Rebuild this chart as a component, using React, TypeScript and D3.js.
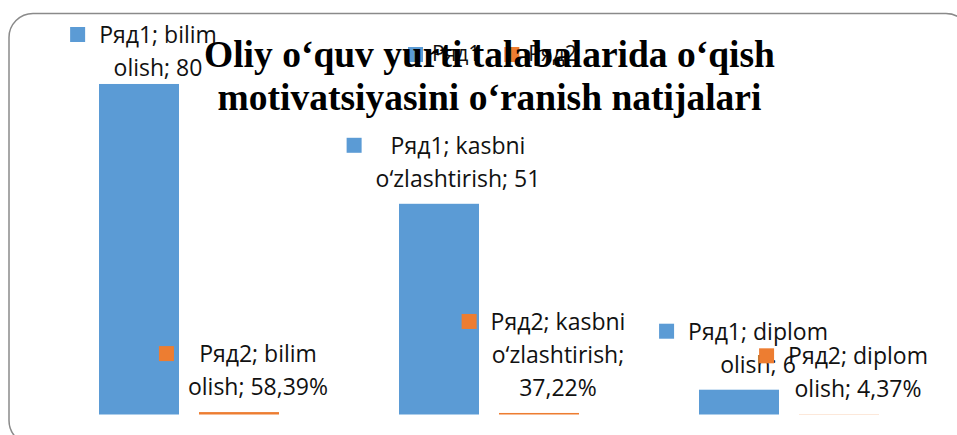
import React, { useMemo } from "react";
import * as d3 from "d3";

const categories = ["bilim olish", "kasbni o‘zlashtirish", "diplom olish"];
const seriesNames = ["Ряд1", "Ряд2"];
const series1 = [80, 51, 6];
const series2 = [0.5839, 0.3722, 0.0437];
const titleLines = ["Oliy o‘quv yurti talabalarida o‘qish", "motivatsiyasini o‘ranish natijalari"];

const COLORS = ["#5B9BD5", "#ED7D31"];
const W = 957;
const H = 435;
const LABEL_FONT = "23px 'Open Sans'";
const LEGEND_FONT = "21px 'Open Sans'";

let ctx: CanvasRenderingContext2D | null = null;
function measure(text: string, font: string) {
  if (!ctx) ctx = document.createElement("canvas").getContext("2d");
  if (!ctx) return text.length * 11;
  ctx.font = font;
  return ctx.measureText(text).width;
}

function wrap(text: string, maxW: number, font: string) {
  const words = text.split(" ");
  const lines: string[] = [];
  let cur = "";
  for (const w of words) {
    const t = cur ? cur + " " + w : w;
    if (cur && measure(t, font) > maxW) {
      lines.push(cur);
      cur = w;
    } else cur = t;
  }
  if (cur) lines.push(cur);
  return lines;
}

const fmt1 = (v: number) => String(v);
const fmt2 = (v: number) => (v * 100).toFixed(2).replace(".", ",") + "%";

export default function App() {
  const x0 = d3.scaleBand<string>().domain(categories).range([39, 939]).padding(0);
  const x1 = d3.scaleBand<string>().domain(seriesNames).range([60, 240]).paddingInner(0.2).paddingOuter(0);
  const y = d3.scaleLinear().domain([0, 90]).range([414.5, 42.66]);

  const allSeries = [series1, series2];
  const fmts = [fmt1, fmt2];

  const labels = useMemo(() => {
    const out: any[] = [];
    allSeries.forEach((vals, si) => {
      vals.forEach((v, ci) => {
        const bx = (x0(categories[ci]) as number) + (x1(seriesNames[si]) as number);
        const barCenter = bx + x1.bandwidth() / 2;
        const top = y(v);
        const text = `${seriesNames[si]}; ${categories[ci]}; ${fmts[si](v)}`;
        const lines = wrap(text, 180, LABEL_FONT);
        const widest = d3.max(lines, (l) => measure(l, LABEL_FONT)) as number;
        const cx = barCenter + 19;
        const last = top - 17;
        let first = last - (lines.length - 1) * 33;
        if (first < 43) first = 43;
        out.push({ key: `${si}-${ci}`, si, cx, lines, first, mx: cx - widest / 2 - 29, my: first - 16 });
      });
    });
    return out;
  }, []);

  let lx = 408;
  const legend = seriesNames.map((s, i) => {
    const e = { s, i, x: lx };
    lx += 15 + 9 + measure(s, LEGEND_FONT) + 24;
    return e;
  });

  return (
    <svg width={W} height={H} style={{ position: "absolute", left: 0, top: 0, background: "#fff" }}>
      <rect x={9} y={13.5} width={961} height={431} rx={24} ry={24} fill="#fff" stroke="#8a8a8a" strokeWidth={1.5} />
      {allSeries.map((vals, si) =>
        vals.map((v, ci) => (
          <rect
            key={`b${si}-${ci}`}
            x={(x0(categories[ci]) as number) + (x1(seriesNames[si]) as number)}
            y={y(v)}
            width={x1.bandwidth()}
            height={y(0) - y(v)}
            fill={COLORS[si]}
          />
        ))
      )}
      {legend.map((e) => (
        <g key={e.s}>
          <rect x={e.x} y={47} width={15} height={15} fill={COLORS[e.i]} />
          <text x={e.x + 24} y={61} fontFamily="'Open Sans'" fontSize={21} fill="#111">
            {e.s}
          </text>
        </g>
      ))}
      <g fontFamily="'Liberation Serif', 'Times New Roman', serif" fontWeight="bold" fontSize={37.5} fill="#000" textAnchor="middle">
        {titleLines.map((t, i) => (
          <text key={i} x={489.5} y={67 + i * 43}>
            {t}
          </text>
        ))}
      </g>
      {labels.map((l) => (
        <g key={l.key}>
          <rect x={l.mx} y={l.my} width={15} height={15} fill={COLORS[l.si]} />
          {l.lines.map((ln: string, i: number) => (
            <text key={i} x={l.cx} y={l.first + i * 33} textAnchor="middle" fontFamily="'Open Sans'" fontSize={23} fill="#111">
              {ln}
            </text>
          ))}
        </g>
      ))}
    </svg>
  );
}
